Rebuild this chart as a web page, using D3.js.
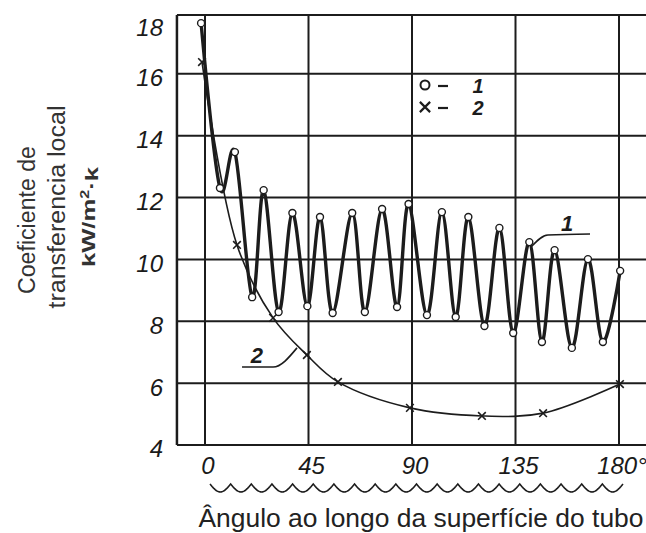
<!DOCTYPE html>
<html lang="pt">
  <head>
    <meta charset="UTF-8" />
    <title>Coeficiente de transferencia local</title>
    <script src="https://cdn.jsdelivr.net/npm/d3@7.6.1/dist/d3.min.js"></script>
    <style>
      body { margin: 0; background: #fff; }
      svg { display: block; }
      .num { font: italic 24px 'Liberation Sans', Arial, sans-serif; fill: #1a1a1a; }
    </style>
  </head>
  <body>
    <div id="box"></div>
    <script>
      // dados
      const xTicks = [0, 45, 90, 135, 180];
      const xTickLabels = ['0', '45', '90', '135', '180°'];
      const yTicks = [4, 6, 8, 10, 12, 14, 16, 18];

      // curva 1 (o) - picos e vales
      const angle1 = [-1.7, 6.5, 13, 20.5, 25.5, 32, 38, 44.5, 50, 55.5, 64, 69.5, 77, 83.5, 88.5,
        96.5, 103, 109, 114.5, 121.5, 128, 134, 141, 146.5, 152, 159.5, 166.5, 173, 180.5];
      const coef1 = [17.64, 12.31, 13.47, 8.78, 12.24, 8.30, 11.50, 8.49, 11.37, 8.27, 11.50, 8.30, 11.63, 8.46, 11.79,
        8.20, 11.53, 8.14, 11.37, 7.85, 11.02, 7.62, 10.56, 7.33, 10.30, 7.14, 10.01, 7.33, 9.63];

      // curva 2 (x)
      const angle2 = [-1.3, 13.9, 29.6, 44.3, 57.8, 89.1, 120.4, 147, 180.4];
      const coef2 = [16.38, 10.47, 8.11, 6.91, 6.04, 5.20, 4.94, 5.03, 5.97];

      const width = 646;
      const height = 533;
      const svg = d3.select('#box').append('svg').attr('width', width).attr('height', height);

      const x = d3.scaleLinear().domain([0, 180]).range([205, 619]);
      const y = d3.scaleLinear().domain([4, 18]).range([445, 12]);
      const leftX = x(-12.2);
      const topY = y(17.9);
      const ink = '#1c1c1c';

      /* grade */
      const grid = svg.append('g').attr('stroke', ink).attr('stroke-width', 2).attr('fill', 'none');
      grid.selectAll('.h')
        .data(yTicks.filter(d => d < 18))
        .enter()
        .append('line')
        .attr('x1', leftX).attr('x2', width)
        .attr('y1', d => y(d)).attr('y2', d => y(d));
      grid.append('line').attr('x1', leftX).attr('x2', width).attr('y1', topY).attr('y2', topY);
      grid.append('line').attr('x1', leftX).attr('x2', leftX).attr('y1', topY).attr('y2', y(4)).attr('stroke-width', 2.5);
      grid.selectAll('.v')
        .data(xTicks)
        .enter()
        .append('line')
        .attr('x1', d => x(d)).attr('x2', d => x(d))
        .attr('y1', topY).attr('y2', y(4));

      /* rótulos dos eixos */
      svg.selectAll('.ylab')
        .data(yTicks)
        .enter()
        .append('text')
        .attr('class', 'num')
        .attr('x', 163)
        .attr('y', d => Math.max(y(d) + 4, 28))
        .attr('dy', '0.35em')
        .attr('text-anchor', 'end')
        .text(d => d);

      svg.selectAll('.xlab')
        .data(xTicks)
        .enter()
        .append('text')
        .attr('class', 'num')
        .attr('x', d => x(d) + 3)
        .attr('y', 474)
        .attr('text-anchor', 'middle')
        .text((d, i) => xTickLabels[i]);

      // linha ondulada sob o eixo
      const wave = d3.range(0, 401).map(i => {
        const t = i / 400;
        return [210 + t * 413, 484 + 8 * Math.abs(Math.sin(Math.PI * t * 20))];
      });
      svg.append('path')
        .attr('d', d3.line()(wave))
        .attr('fill', 'none')
        .attr('stroke', ink)
        .attr('stroke-width', 1.6);

      svg.append('text')
        .attr('x', 421)
        .attr('y', 527)
        .attr('text-anchor', 'middle')
        .attr('font-family', "'Liberation Sans', Arial, sans-serif")
        .attr('font-size', 25)
        .attr('fill', '#222')
        .attr('textLength', 445)
        .attr('lengthAdjust', 'spacingAndGlyphs')
        .text('Ângulo ao longo da superfície do tubo');

      // título do eixo y (três linhas)
      const yTitle = [
        {t: 'Coeficiente de', cx: 27, cy: 220, len: 148, w: 'normal', fs: 23},
        {t: 'transferencia local', cx: 57, cy: 207, len: 203, w: 'normal', fs: 23},
        {t: 'kW/m', cx: 88, cy: 217, len: 100, w: 'bold', fs: 19}
      ];
      yTitle.forEach(l => {
        const tx = svg.append('text')
          .attr('transform', `translate(${l.cx},${l.cy}) rotate(-90)`)
          .attr('text-anchor', 'middle')
          .attr('dy', '0.35em')
          .attr('font-family', "'Liberation Sans', Arial, sans-serif")
          .attr('font-size', l.fs)
          .attr('font-weight', l.w)
          .attr('fill', '#333');
        if (l.t === 'kW/m') {
          tx.attr('textLength', l.len).attr('lengthAdjust', 'spacingAndGlyphs');
          tx.append('tspan').text('kW/m');
          tx.append('tspan').attr('dy', '-0.45em').attr('font-size', 12).text('2');
          tx.append('tspan').attr('dy', '0.45em').text('·k');
        } else {
          tx.attr('textLength', l.len).attr('lengthAdjust', 'spacingAndGlyphs').text(l.t);
        }
      });

      /* curva 2 */
      const pts2 = angle2.map((a, i) => [a, coef2[i]]);
      svg.append('path')
        .attr('d', d3.line().x(d => x(d[0])).y(d => y(d[1])).curve(d3.curveCatmullRom.alpha(0.5))(pts2))
        .attr('fill', 'none')
        .attr('stroke', ink)
        .attr('stroke-width', 1.6);
      svg.selectAll('.cross')
        .data(pts2)
        .enter()
        .append('path')
        .attr('transform', d => `translate(${x(d[0])},${y(d[1])})`)
        .attr('d', d3.symbol().type(d3.symbolTimes).size(40))
        .attr('fill', 'none')
        .attr('stroke', ink)
        .attr('stroke-width', 1.6);

      /* curva 1 */
      const pts1 = angle1.map((a, i) => [a, coef1[i]]);
      svg.append('path')
        .attr('d', d3.line().x(d => x(d[0])).y(d => y(d[1])).curve(d3.curveCardinal.tension(0))(pts1))
        .attr('fill', 'none')
        .attr('stroke', ink)
        .attr('stroke-width', 3.4)
        .attr('stroke-linejoin', 'round');
      svg.selectAll('.circ')
        .data(pts1)
        .enter()
        .append('circle')
        .attr('cx', d => x(d[0]))
        .attr('cy', d => y(d[1]))
        .attr('r', 3.5)
        .attr('fill', '#fff')
        .attr('stroke', ink)
        .attr('stroke-width', 1.4);

      /* legenda */
      const legend = svg.append('g').attr('font-family', "'Liberation Sans', Arial, sans-serif")
        .attr('font-weight', 'bold').attr('font-size', 20).attr('fill', ink);
      legend.append('circle').attr('cx', 425).attr('cy', 85).attr('r', 4.5)
        .attr('fill', 'none').attr('stroke', ink).attr('stroke-width', 2);
      legend.append('path').attr('transform', 'translate(425,107)')
        .attr('d', d3.symbol().type(d3.symbolTimes).size(70))
        .attr('fill', 'none').attr('stroke', ink).attr('stroke-width', 2.2);
      ['1', '2'].forEach((s, i) => {
        legend.append('line').attr('x1', 438).attr('x2', 448).attr('y1', 86 + i * 22).attr('y2', 86 + i * 22)
          .attr('stroke', ink).attr('stroke-width', 2.2);
        legend.append('text').attr('x', 478).attr('y', 93 + i * 22).attr('text-anchor', 'middle')
          .attr('font-style', 'italic').text(s);
      });

      /* chamadas 1 e 2 */
      const callouts = [
        {label: '1', path: [[141.7, 10.4], [149.1, 10.79], [167.4, 10.82]], at: [157.4, 10.85]},
        {label: '2', path: [[16.1, 6.52], [29.6, 6.52], [40, 7.14]], at: [22.6, 6.58]}
      ];
      callouts.forEach(c => {
        svg.append('path')
          .attr('d', d3.line().x(d => x(d[0])).y(d => y(d[1])).curve(d3.curveMonotoneX)(c.path))
          .attr('fill', 'none').attr('stroke', ink).attr('stroke-width', 1.6);
        svg.append('text')
          .attr('x', x(c.at[0])).attr('y', y(c.at[1]) - 2)
          .attr('text-anchor', 'middle')
          .attr('font-family', "'Liberation Sans', Arial, sans-serif")
          .attr('font-style', 'italic').attr('font-weight', 'bold').attr('font-size', 22)
          .attr('fill', ink)
          .text(c.label);
      });
    </script>
  </body>
</html>
